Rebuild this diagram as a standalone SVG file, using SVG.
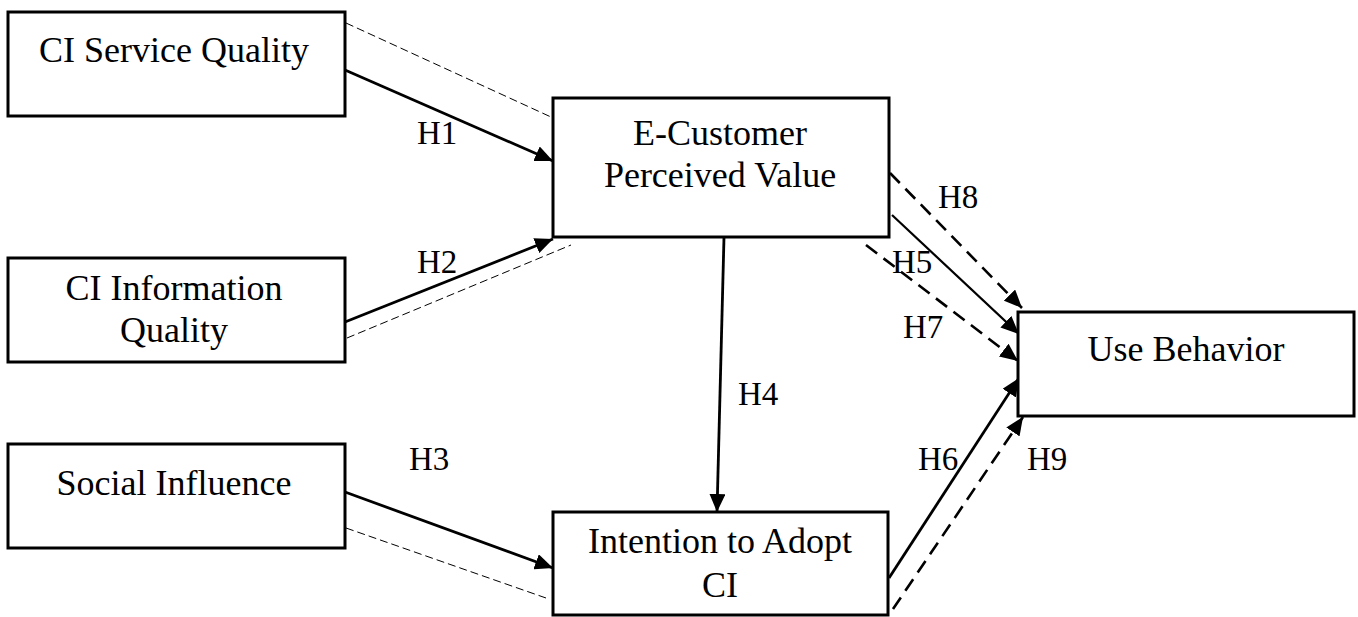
<svg xmlns="http://www.w3.org/2000/svg" width="1358" height="617" viewBox="0 0 1358 617">
<style>
.box{fill:#fff;stroke:#000;stroke-width:3}
.t{font-family:"Liberation Serif","Times New Roman",serif;font-size:36px;fill:#000;text-anchor:middle}
.lbl{font-family:"Liberation Serif","Times New Roman",serif;font-size:33px;fill:#000}
.solid{stroke:#000;stroke-width:2.8;fill:none;marker-end:url(#ah)}
.dash{stroke:#000;stroke-width:2.6;fill:none;stroke-dasharray:14 8;marker-end:url(#ah)}
.thin{stroke:#000;stroke-width:1;fill:none;stroke-dasharray:8 4}
</style>
<defs>
<marker id="ah" markerUnits="userSpaceOnUse" markerWidth="19" markerHeight="16" refX="18" refY="8" orient="auto">
<path d="M0,0 L18,8 L0,16 z" fill="#000"/>
</marker>
</defs>
<rect width="1358" height="617" fill="#fff"/>
<g id="connectors">
<line class="thin" x1="346" y1="23" x2="551" y2="117"/>
<line class="thin" x1="347" y1="338" x2="571" y2="245"/>
<line class="thin" x1="346" y1="528" x2="546" y2="598"/>
<line class="solid" x1="345" y1="70" x2="553" y2="161"/>
<line class="solid" x1="345" y1="322" x2="553" y2="239"/>
<line class="solid" x1="345" y1="492" x2="553" y2="568"/>
<line class="solid" x1="724" y1="237" x2="717" y2="512"/>
<line class="dash" x1="890" y1="173" x2="1022" y2="308"/>
<line class="solid" x1="892" y1="215" x2="1019" y2="334" style="stroke-width:2.2"/>
<line class="dash" x1="866" y1="245" x2="1018" y2="361"/>
<line class="solid" x1="889" y1="578" x2="1019" y2="378"/>
<line class="dash" x1="893" y1="609" x2="1023" y2="417"/>
<text class="lbl" x="417" y="144">H1</text>
<text class="lbl" x="417" y="273">H2</text>
<text class="lbl" x="409" y="470">H3</text>
<text class="lbl" x="738" y="405">H4</text>
<text class="lbl" x="892" y="273">H5</text>
<text class="lbl" x="918" y="470">H6</text>
<text class="lbl" x="903" y="338">H7</text>
<text class="lbl" x="938" y="208">H8</text>
<text class="lbl" x="1027" y="470">H9</text>
</g>
<g id="n-service">
<rect class="box" x="8" y="12" width="337" height="104"/>
<text class="t" x="174" y="62">CI Service Quality</text>
</g>
<g id="n-info">
<rect class="box" x="8" y="258" width="337" height="104"/>
<text class="t" x="174" y="300">CI Information</text>
<text class="t" x="174" y="342">Quality</text>
</g>
<g id="n-social">
<rect class="box" x="8" y="444" width="337" height="104"/>
<text class="t" x="174" y="495">Social Influence</text>
</g>
<g id="n-ecpv">
<rect class="box" x="553" y="98" width="336" height="139"/>
<text class="t" x="720" y="145">E-Customer</text>
<text class="t" x="720" y="187">Perceived Value</text>
</g>
<g id="n-intention">
<rect class="box" x="553" y="512" width="335" height="103"/>
<text class="t" x="720" y="553">Intention to Adopt</text>
<text class="t" x="720" y="597">CI</text>
</g>
<g id="n-use">
<rect class="box" x="1018" y="312" width="336" height="104"/>
<text class="t" x="1186" y="361">Use Behavior</text>
</g>
</svg>
